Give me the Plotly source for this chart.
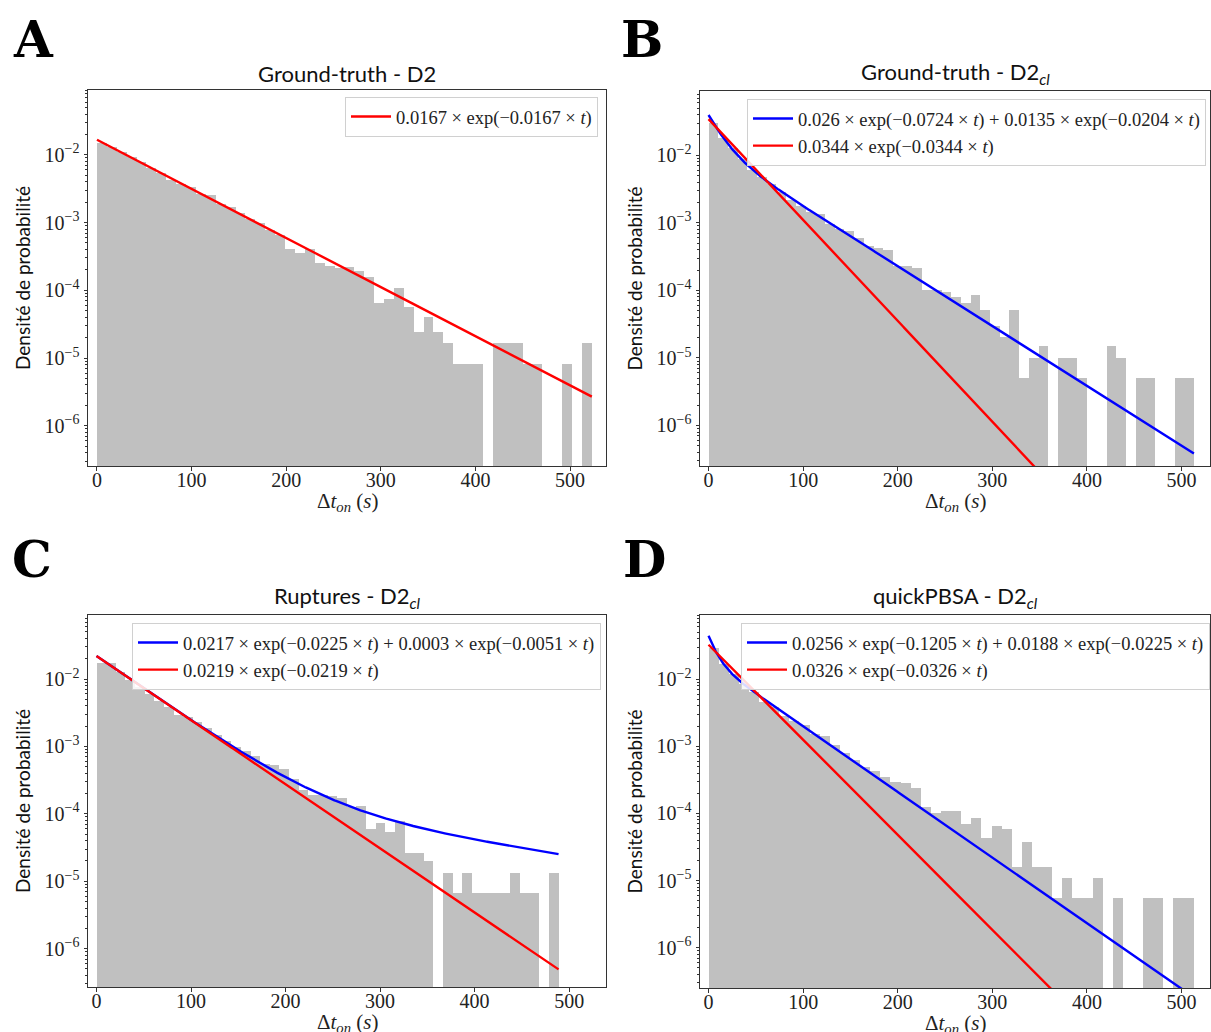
import numpy as np
import plotly.graph_objects as go

# ---------------- data (histogram densities per bin) ----------------
A_tmax = 523.0
A_density = [0.0152, 0.0130, 0.0112, 0.0094, 0.0078, 0.0063, 0.0054, 0.0042, 0.0037, 0.0033,
             0.0026, 0.00255, 0.0019, 0.00168, 0.00138, 0.00112, 0.00098, 0.00078, 0.00066, 0.000402,
             0.000359, 0.000402, 0.000256, 0.000229, 0.000216, 0.000221, 0.000193, 0.000158, 6.56e-5, 7.38e-5,
             1.066e-4, 5.74e-5, 2.46e-5, 4.1e-5, 2.46e-5, 1.64e-5, 8.2e-6, 8.2e-6, 8.2e-6, None,
             1.64e-5, 1.64e-5, 1.64e-5, 8.2e-6, 8.2e-6, None, None, 8.2e-6, None, 1.64e-5]

B_tmax = 513.0
B_density = [0.0300, 0.0183, 0.0128, 0.0088, 0.0061, 0.0047, 0.0037, 0.0029, 0.0022, 0.0018,
             0.00145, 0.00133, 0.00095, 0.00080, 0.00076, 0.00060, 0.00046, 0.00042, 0.00039, 0.000227,
             0.000227, 0.000218, 0.000103, 0.000101, 9.4e-5, 8.0e-5, 6.6e-5, 8.5e-5, 5.1e-5, 3.0e-5,
             2.03e-5, 5.1e-5, 5.06e-6, 1.01e-5, 1.52e-5, None, 1.01e-5, 1.01e-5, 5.06e-6, None,
             None, 1.52e-5, 1.01e-5, None, 5.06e-6, 5.06e-6, None, None, 5.06e-6, 5.06e-6]

C_tmax = 488.8
C_density = [0.0173, 0.0171, 0.0126, 0.0096, 0.0077, 0.0059, 0.0048, 0.0039, 0.00295, 0.0027,
             0.00227, 0.00187, 0.00147, 0.00121, 0.00098, 0.00086, 0.00072, 0.00055, 0.00053, 0.00047,
             0.000324, 0.000224, 0.000193, 0.000193, 0.000183, 0.000173, 0.000125, 0.000132, 6.0e-5, 7.3e-5,
             5.3e-5, 7.7e-5, 2.66e-5, 2.66e-5, 1.99e-5, None, 1.33e-5, 6.65e-6, 1.33e-5, 6.65e-6,
             6.65e-6, 6.65e-6, 6.65e-6, 1.33e-5, 6.65e-6, 6.65e-6, None, 1.33e-5]

D_tmax = 512.7
D_density = [0.0287, 0.0168, 0.0119, 0.00846, 0.00635, 0.00461, 0.0038, 0.00286, 0.00235, 0.0021,
             0.00152, 0.00141, 0.00104, 7.85e-4, 6.25e-4, 4.98e-4, 4.34e-4, 3.45e-4, 2.97e-4, 2.80e-4,
             2.39e-4, 1.25e-4, 1.03e-4, 1.08e-4, 1.08e-4, 7.06e-5, 8.57e-5, 4.34e-5, 6.45e-5, 5.96e-5,
             1.61e-5, 3.79e-5, 1.61e-5, 1.61e-5, 5.47e-6, 1.08e-5, 5.47e-6, 5.47e-6, 1.08e-5, None,
             5.47e-6, None, None, 5.47e-6, 5.47e-6, None, 5.47e-6, 5.47e-6]

# fitted models: list of (amplitude, rate) terms
A_fits = [("red", [(0.0167, 0.0167)], "0.0167 × exp(−0.0167 × <i>t</i>)")]
B_fits = [("blue", [(0.026, 0.0724), (0.0135, 0.0204)],
           "0.026 × exp(−0.0724 × <i>t</i>) + 0.0135 × exp(−0.0204 × <i>t</i>)"),
          ("red", [(0.0344, 0.0344)], "0.0344 × exp(−0.0344 × <i>t</i>)")]
C_fits = [("blue", [(0.0217, 0.0225), (0.0003, 0.0051)],
           "0.0217 × exp(−0.0225 × <i>t</i>) + 0.0003 × exp(−0.0051 × <i>t</i>)"),
          ("red", [(0.0219, 0.0219)], "0.0219 × exp(−0.0219 × <i>t</i>)")]
D_fits = [("blue", [(0.0256, 0.1205), (0.0188, 0.0225)],
           "0.0256 × exp(−0.1205 × <i>t</i>) + 0.0188 × exp(−0.0225 × <i>t</i>)"),
          ("red", [(0.0326, 0.0326)], "0.0326 × exp(−0.0326 × <i>t</i>)")]

titles = ["Ground-truth - D2", "Ground-truth - D2<sub><i>cl</i></sub>",
          "Ruptures - D2<sub><i>cl</i></sub>", "quickPBSA - D2<sub><i>cl</i></sub>"]
letters = ["A", "B", "C", "D"]
x_title = "Δ<i>t</i><sub><i>on</i></sub> (<i>s</i>)"
y_title = "Densité de probabilité"
y_ticks = [1e-6, 1e-5, 1e-4, 1e-3, 1e-2]
y_ticktext = ["10<sup>−6</sup>", "10<sup>−5</sup>", "10<sup>−4</sup>", "10<sup>−3</sup>", "10<sup>−2</sup>"]
x_ticks = [0, 100, 200, 300, 400, 500]

panels = [
    (A_tmax, A_density, A_fits),
    (B_tmax, B_density, B_fits),
    (C_tmax, C_density, C_fits),
    (D_tmax, D_density, D_fits),
]

# ---------------- layout geometry (pixels of 1211 x 1032 page) ----------------
W, H = 1211, 1032
frames = [  # left, right, top, bottom
    (88, 606, 90, 466),
    (700, 1210, 91, 466),
    (88, 606, 615, 987),
    (700, 1210, 615, 988),
]
x_ranges = [(-9.5, 538), (-9, 530), (-9, 539), (-9, 530)]
y_ranges = [(-6.595, -1.042), (-6.60, -1.048), (-6.57, -1.05), (-6.60, -1.044)]
legend_pos = [(598, 97), (1206, 99), (601, 623), (1210, 623)]
letter_pos = [(33, 40), (642, 40), (32, 559), (644, 559)]
xtitle_y = [502, 502, 1023, 1024]

SERIF = "Liberation Serif"
SANS = "Lato"

fig = go.Figure()
minor_vals = [k * 10.0 ** p for p in range(-7, 0) for k in range(2, 10)]

for idx, (tmax, dens, fits) in enumerate(panels):
    n = idx + 1
    xa = "x" if n == 1 else f"x{n}"
    ya = "y" if n == 1 else f"y{n}"
    leg = "legend" if n == 1 else f"legend{n}"
    edges = np.linspace(0, tmax, len(dens) + 1)
    width = edges[1] - edges[0]
    centers = edges[:-1] + width / 2
    fig.add_trace(go.Bar(x=centers, y=dens, width=width, marker=dict(color="#c0c0c0", line=dict(width=0)),
                         xaxis=xa, yaxis=ya, showlegend=False, hoverinfo="skip"))
    t = np.linspace(0, tmax, 500)
    for color, terms, label in fits:
        yv = np.zeros_like(t)
        for a, b in terms:
            yv = yv + a * np.exp(-b * t)
        fig.add_trace(go.Scatter(x=t, y=yv, mode="lines", line=dict(color=color, width=2.4),
                                 name=label, xaxis=xa, yaxis=ya, legend=leg))

    l, r, tp, bt = frames[idx]
    xdom = [l / W, r / W]
    ydom = [1 - bt / H, 1 - tp / H]
    axis_common = dict(showline=True, linecolor="#333333", linewidth=1, mirror=True,
                       ticks="outside", ticklen=3.5, tickcolor="#333333", showgrid=False, zeroline=False)
    fig.layout[("xaxis" if n == 1 else f"xaxis{n}")] = dict(
        domain=xdom, anchor=ya, range=list(x_ranges[idx]), tickvals=x_ticks,
        tickfont=dict(family=SERIF, size=20, color="#222"), ticklabelstandoff=-8,
        **axis_common)
    fig.layout[("yaxis" if n == 1 else f"yaxis{n}")] = dict(
        domain=ydom, anchor=xa, type="log", range=list(y_ranges[idx]),
        tickvals=y_ticks, ticktext=y_ticktext,
        tickfont=dict(family=SERIF, size=20, color="#222"),
        minor=dict(ticks="outside", ticklen=2, tickcolor="#333333", tickvals=minor_vals),
        title=dict(text=y_title, font=dict(family=SANS, size=19, color="#111"), standoff=8),
        **axis_common)
    lx, ly = legend_pos[idx]
    fig.layout[leg] = dict(x=lx / W, y=1 - ly / H, xanchor="right", yanchor="top",
                           bgcolor="rgba(255,255,255,0.85)", bordercolor="#d0d0d0", borderwidth=1,
                           font=dict(family=SERIF, size=18.5, color="#222"), itemwidth=40,
                           tracegroupgap=0)
    fig.add_annotation(text=titles[idx], x=(l + r) / 2 / W, y=1 - (tp - 1) / H, xref="paper", yref="paper",
                       xanchor="center", yanchor="bottom", showarrow=False,
                       font=dict(family=SANS, size=22, color="#111"))
    fig.add_annotation(text=x_title, x=(l + r) / 2 / W, y=1 - xtitle_y[idx] / H, xref="paper", yref="paper",
                       xanchor="center", yanchor="middle", showarrow=False,
                       font=dict(family=SERIF, size=21, color="#222"))
    px, py = letter_pos[idx]
    fig.add_annotation(text="<b>" + letters[idx] + "</b>", x=px / W, y=1 - py / H, xref="paper", yref="paper",
                       xanchor="center", yanchor="middle", showarrow=False,
                       font=dict(family="DejaVu Serif", size=50, color="#000"))

fig.update_layout(width=W, height=H, margin=dict(l=0, r=0, t=0, b=0), plot_bgcolor="white",
                  paper_bgcolor="white", bargap=0, barmode="overlay", showlegend=True)
fig.write_html("out.html", config={"displayModeBar": False},
               post_script="document.body.style.margin='0px';document.body.style.overflow='hidden';")
